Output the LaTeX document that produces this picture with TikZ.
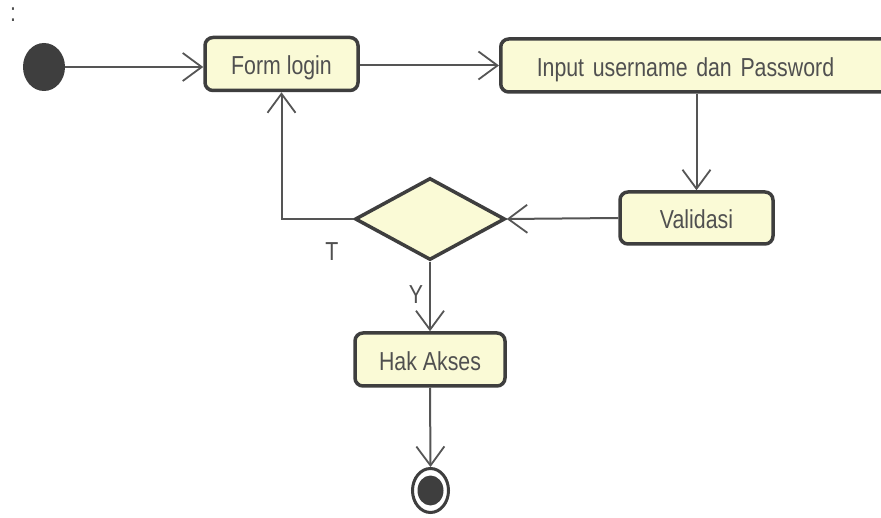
\documentclass[tikz,border=0pt]{standalone}
\usepackage{fontspec}
\setmainfont{Liberation Sans}[FakeStretch=0.82]
\usetikzlibrary{arrows.meta,shapes.geometric}
\definecolor{boxfill}{RGB}{250,250,214}
\definecolor{boxline}{RGB}{62,62,62}
\definecolor{conline}{RGB}{85,85,85}
\definecolor{txt}{RGB}{80,80,80}
\tikzset{
  act/.style={draw=boxline, line width=3.5pt, fill=boxfill, rounded corners=8pt,
    minimum height=53pt, inner sep=0pt, text=txt, text height=22pt, text depth=0pt,
    font=\fontsize{26}{30}\selectfont},
  dec/.style={diamond, draw=boxline, line width=3.5pt, fill=boxfill,
    minimum width=150pt, minimum height=82pt, inner sep=0pt},
  flow/.style={draw=conline, line width=2pt,
    -{Straight Barb[length=19pt,width=28pt,line width=1.8pt]}},
  lbl/.style={text=txt, font=\fontsize{26}{30}\selectfont, inner sep=0pt}
}
\begin{document}
\begin{tikzpicture}[x=1pt,y=-1pt]
\useasboundingbox (0,0) rectangle (881,518);
\clip (0,0) rectangle (881,518);
\fill[white] (0,0) rectangle (881,518);
\node[lbl] (colon) at (13,15) {:};
\node[ellipse, fill=boxline, minimum width=42pt, minimum height=48pt, inner sep=0pt] (init) at (44,67) {};
\node[act, minimum width=153pt] (form) at (281.5,64) {Form login};
\node[act, anchor=west, text width=318pt, inner xsep=36pt, align=left] (input) at (499,65.5) {Input username dan Password};
\node[act, minimum width=153pt, minimum height=52pt] (valid) at (696.5,218) {Validasi};
\node[dec] (choice) at (430,219) {};
\node[act, minimum width=150pt] (hak) at (430,359.5) {Hak Akses};
\node[ellipse, draw=boxline, line width=3pt, fill=white, minimum width=36pt, minimum height=44pt, inner sep=0pt] (final) at (430.5,490.5) {};
\node[ellipse, fill=boxline, minimum width=26pt, minimum height=30pt, inner sep=0pt] (finalin) at (final.center) {};
\draw[flow] (init) -- (form.west |- init);
\draw[flow] (form.east |- input) -- (input.west);
\draw[flow] (input.south -| valid.north) -- (valid.north);
\draw[flow] (valid.west) -- (choice.east);
\draw[flow] (choice.west) -| (form.south);
\draw[flow] (choice.south) -- (hak.north);
\draw[flow] (hak.south) -- (final.north);
\node[lbl] (t) at (332,252) {T};
\node[lbl] (y) at (416,295) {Y};
\end{tikzpicture}
\end{document}
